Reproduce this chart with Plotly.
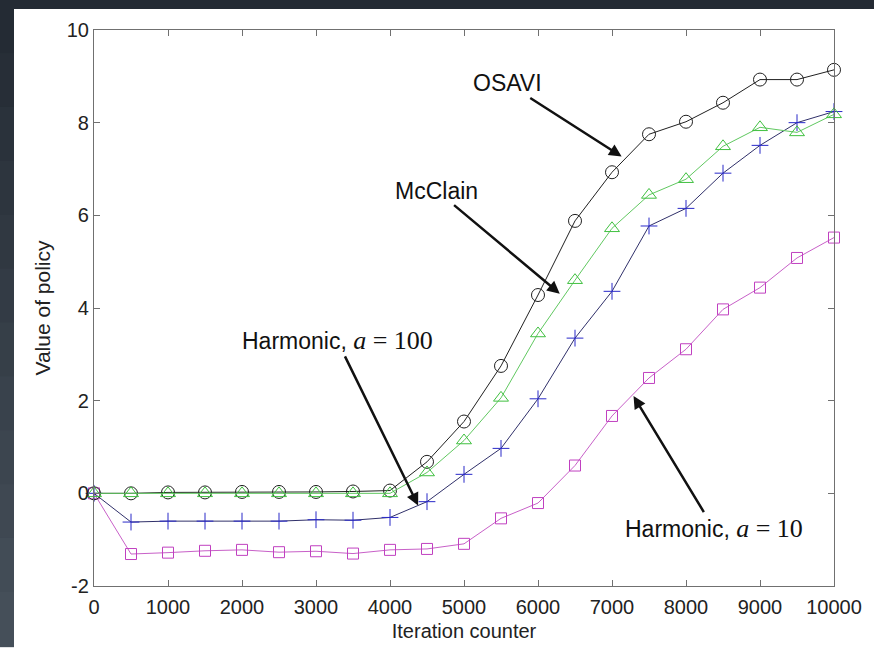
import plotly.graph_objects as go

iterations = [0, 500, 1000, 1500, 2000, 2500, 3000, 3500, 4000, 4500, 5000,
              5500, 6000, 6500, 7000, 7500, 8000, 8500, 9000, 9500, 10000]

osavi = [0, 0.0, 0.02, 0.02, 0.03, 0.03, 0.03, 0.04, 0.06, 0.68, 1.55,
         2.75, 4.28, 5.88, 6.93, 7.75, 8.02, 8.43, 8.93, 8.93, 9.14]
mcclain = [0, 0.0, 0.0, 0.0, 0.0, 0.0, 0.0, 0.0, 0.0, 0.45, 1.14,
           2.06, 3.45, 4.60, 5.72, 6.44, 6.78, 7.49, 7.90, 7.79, 8.18]
harm100 = [0, -0.62, -0.60, -0.60, -0.60, -0.60, -0.57, -0.58, -0.52, -0.18, 0.41,
           0.97, 2.04, 3.35, 4.36, 5.77, 6.15, 6.91, 7.51, 8.00, 8.24]
harm10 = [0, -1.31, -1.28, -1.24, -1.22, -1.27, -1.25, -1.30, -1.22, -1.20, -1.09,
          -0.54, -0.21, 0.60, 1.67, 2.49, 3.11, 3.97, 4.44, 5.08, 5.52]

x_ticks = [0, 1000, 2000, 3000, 4000, 5000, 6000, 7000, 8000, 9000, 10000]
y_ticks = [-2, 0, 2, 4, 6, 8, 10]

W, H = 874, 650
L, R, T, B = 94, 874 - 834, 30, 650 - 589
pw, ph = W - L - R, H - T - B

fig = go.Figure()

def add(y, color_line, color_mk, symbol, size):
    fig.add_trace(go.Scatter(
        x=iterations, y=y, mode="lines+markers",
        line=dict(color=color_line, width=1),
        marker=dict(symbol=symbol, size=size, color=color_mk,
                    line=dict(color=color_mk, width=1)),
        showlegend=False, cliponaxis=False))

add(harm10, "#c860c8", "#c040c0", "square-open", 11)
add(harm100, "#30306a", "#2828c8", "cross-thin", 12)
add(osavi, "#202020", "#202020", "circle-open", 13)
add(mcclain, "#60c860", "#40c040", "triangle-up-open", 13)

def px2x(px):
    return (px - L) / pw

def px2y(py):
    return (H - B - py) / ph

shapes = []
dark = "#242b34"
n = 12
top_rgb = (0x24, 0x2b, 0x34)
bot_rgb = (0x45, 0x4f, 0x59)
for i in range(n):
    t = i / (n - 1)
    c = tuple(int(round(a + (b - a) * t)) for a, b in zip(top_rgb, bot_rgb))
    y0p = (H) * i / n
    y1p = (H) * (i + 1) / n
    shapes.append(dict(type="rect", xref="paper", yref="paper", layer="above",
                       x0=px2x(-1), x1=px2x(14), y0=px2y(y1p + 0.5), y1=px2y(y0p - 1),
                       fillcolor="rgb(%d,%d,%d)" % c, line=dict(width=0)))
shapes.append(dict(type="rect", xref="paper", yref="paper", layer="above",
                   x0=px2x(-1), x1=px2x(W + 1), y0=px2y(9), y1=px2y(-1),
                   fillcolor=dark, line=dict(width=0)))

serif = "font-family:'Liberation Serif','Times New Roman',serif;font-size:26px"
sans = "Liberation Sans, Arial, sans-serif"
ann_font = dict(family=sans, size=23, color="#111111")
annotations = [
    dict(x=7130, y=7.27, ax=-114, ay=-73, text="OSAVI"),
    dict(x=6294, y=4.31, ax=-123, ay=-103, text="McClain"),
    dict(x=4380, y=-0.26, ax=-81, ay=-165,
         text="Harmonic, <span style=\"%s\"><i>a</i> = 100</span>" % serif),
    dict(x=7291, y=2.10, ax=80, ay=132,
         text="Harmonic, <span style=\"%s\"><i>a</i> = 10</span>" % serif),
]
for a in annotations:
    a.update(xref="x", yref="y", showarrow=True, arrowhead=2, arrowsize=1,
             arrowwidth=2.5, arrowcolor="#111111", font=ann_font, standoff=0)

axis_common = dict(
    showgrid=False, zeroline=False, showline=True, linecolor="#707070",
    linewidth=1.2, mirror="ticks", ticks="inside", ticklen=6,
    tickcolor="#707070", tickfont=dict(family=sans, size=20, color="#222222"),
)

fig.update_layout(
    width=W, height=H,
    margin=dict(l=L, r=R, t=T, b=B, pad=0),
    paper_bgcolor="white", plot_bgcolor="white",
    shapes=shapes, annotations=annotations,
    xaxis=dict(range=[0, 10000], tickvals=x_ticks,
               ticktext=[str(v) for v in x_ticks], ticklabelstandoff=3,
               title=dict(text="Iteration counter", standoff=6,
                          font=dict(family=sans, size=20, color="#222222")),
               **axis_common),
    yaxis=dict(range=[-2, 10], tickvals=y_ticks,
               ticktext=[str(v) for v in y_ticks],
               title=dict(text="Value of policy", standoff=10,
                          font=dict(family=sans, size=21, color="#222222")),
               **axis_common),
)

fig.write_html("out.html", config={"displayModeBar": False},
               post_script="document.body.style.margin='0px';document.body.style.overflow='hidden';")
